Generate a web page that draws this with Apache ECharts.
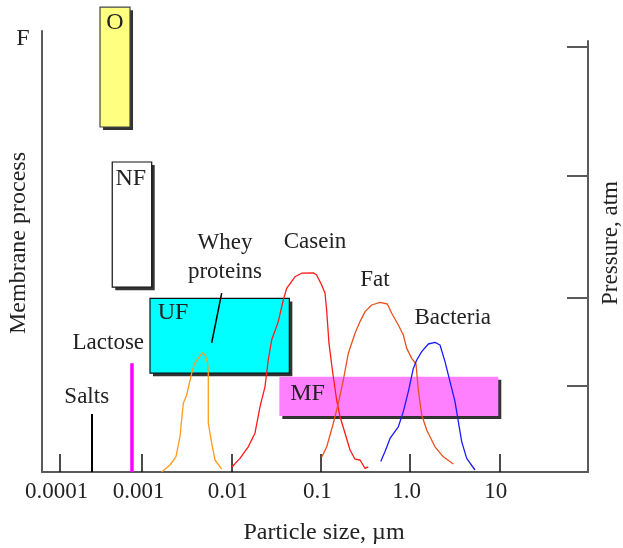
<!DOCTYPE html>
<html>
<head>
<meta charset="utf-8">
<script src="https://cdn.jsdelivr.net/npm/echarts@6/dist/echarts.min.js"></script>
<style>html,body{margin:0;padding:0;background:#fff}#c{width:623px;height:548px}</style>
</head>
<body>
<div id="c"></div>
<script>
// x values are log10(particle size, µm); y values are relative height on the membrane-process axis
const tickPos = [-3.92, -3, -2, -1, 0, 1];
const tickLabels = ['0.0001', '0.001', '0.01', '0.1', '1.0', '10'];
const pressureTicks = [106.3, 74, 43.6, 21.6];

const membranes = ['O', 'NF', 'UF', 'MF'];
const memMinLog = [-3.473, -3.336, -2.913, -1.464];
const memMaxLog = [-3.137, -2.894, -1.352, 0.989];
const memLow = [86.25, 46.2, 24.7, 14];
const memHigh = [116.2, 77.5, 43.4, 23.8];
const memLabelX = [-3.305, -3.128, -2.655, -1.148];
const memLabelY = [112.3, 73.3, 39.8, 19.5];

const wheyX = [-2.782,-2.689,-2.622,-2.577,-2.540,-2.502,-2.446,-2.417,-2.361,-2.327,-2.297,-2.267,-2.260,-2.260,-2.222,-2.185,-2.110];
const wheyY = [0,1.75,3.83,8.83,17.2,19.25,24.7,27,28.8,29.8,29.25,27.2,24.7,12.2,7.2,3,0.7];

const caseinX = [-1.998,-1.905,-1.812,-1.737,-1.681,-1.625,-1.588,-1.550,-1.476,-1.420,-1.382,-1.289,-1.214,-1.083,-1.046,-0.990,-0.952,-0.934,-0.908,-0.870,-0.822,-0.784,-0.728,-0.672,-0.616,-0.560,-0.504,-0.467];
const caseinY = [1.2,3.4,6.3,9.7,16.3,21.3,28,33,37.6,43,45.9,48.8,49.7,49.8,49.25,46.75,44.7,40.5,32.2,25.5,18,13.8,9.7,5.5,3.2,3,0.9,1.3];

const fatX = [-0.990,-0.933,-0.859,-0.803,-0.747,-0.691,-0.616,-0.560,-0.504,-0.429,-0.336,-0.254,-0.205,-0.131,-0.075,-0.037,0.019,0.067,0.093,0.131,0.187,0.280,0.373,0.485];
const fatY = [3.7,6.3,12.2,17.2,23,29.7,34.7,37.6,40.1,41.75,42.4,42,39.7,36.75,34.25,30.9,28.4,27,20.5,14.25,10.5,6.3,3.8,2];

const bactX = [-0.328,-0.280,-0.224,-0.131,-0.075,-0.019,0.037,0.075,0.131,0.205,0.280,0.336,0.392,0.448,0.504,0.541,0.579,0.635,0.728];
const bactY = [2.6,5.1,8.4,11.3,15.1,20.1,25.9,28,30.1,32,32.4,31.75,27.6,22.6,17.6,12.6,7.6,3.4,0.5];

const saltsX = -3.563, saltsTop = 14.5;
const lactoseX = -3.115, lactoseTop = 27.2;
const pointerX = [-2.110, -2.222];
const pointerY = [44.7, 32.3];

const textLabels = ['Salts', 'Lactose', 'Whey', 'proteins', 'Casein', 'Fat', 'Bacteria'];
const textX = [-3.622, -3.380, -2.073, -2.073, -1.064, -0.392, 0.478];
const textY = [18.8, 32.2, 57.2, 50.0, 57.5, 48, 38.4];

const FONT = '"Liberation Serif","Times New Roman",serif';
const memFill = ['#ffff80', '#ffffff', '#00ffff', '#ff80ff'];
const memStroke = ['#444', '#111', '#111', null];

function zip(a, b) { return a.map((v, i) => [v, b[i]]); }

const chart = echarts.init(document.getElementById('c'), null, {renderer: 'canvas'});
const axisColor = '#5a5a5a';

const option = {
  animation: false,
  grid: [
    {left: 42, right: 35, top: 31, bottom: 76},
    {left: 42, right: 35, top: 41, bottom: 76}
  ],
  xAxis: [
    {
      gridIndex: 0, type: 'value', min: -4.123, max: 1.994,
      axisLine: {show: true, onZero: false, lineStyle: {color: axisColor, width: 2}},
      axisTick: {show: true, inside: true, length: 18, customValues: tickPos, lineStyle: {color: '#111', width: 1.5}},
      axisLabel: {show: true, customValues: tickPos, margin: 8, padding: [0, 7, 0, 0],
        formatter: v => tickLabels[tickPos.indexOf(v)] || '',
        fontFamily: FONT, fontSize: 23, color: '#222'},
      splitLine: {show: false}
    },
    {gridIndex: 1, type: 'value', min: -4.123, max: 1.994, show: false}
  ],
  yAxis: [
    {
      gridIndex: 0, type: 'value', min: 0, max: 110.25, position: 'left',
      axisLine: {show: true, onZero: false, lineStyle: {color: axisColor, width: 2}},
      axisTick: {show: false}, axisLabel: {show: false}, splitLine: {show: false}
    },
    {
      gridIndex: 1, type: 'value', min: 0, max: 107.75, position: 'right',
      axisLine: {show: true, onZero: false, lineStyle: {color: axisColor, width: 2}},
      axisTick: {show: true, inside: true, length: 21, customValues: pressureTicks, lineStyle: {color: axisColor, width: 2}},
      axisLabel: {show: false}, splitLine: {show: false}
    }
  ],
  graphic: [
    {type: 'text', x: 23, y: 39, style: {text: 'F', font: '24px ' + FONT, fill: '#222', align: 'center', verticalAlign: 'middle'}},
    {type: 'text', x: 19, y: 243, rotation: Math.PI / 2, style: {text: 'Membrane process', font: '24px ' + FONT, fill: '#222', align: 'center', verticalAlign: 'middle'}},
    {type: 'text', x: 611, y: 243, rotation: Math.PI / 2, style: {text: 'Pressure, atm', font: '23px ' + FONT, fill: '#222', align: 'center', verticalAlign: 'middle'}},
    {type: 'text', x: 324, y: 533, style: {text: 'Particle size, µm', font: '24px ' + FONT, fill: '#222', align: 'center', verticalAlign: 'middle'}}
  ],
  series: [
    {
      type: 'custom', name: 'membranes', clip: false, z: 1,
      data: membranes.map((m, i) => [memMinLog[i], memMaxLog[i], memLow[i], memHigh[i], i]),
      renderItem: function (params, api) {
        const i = api.value(4);
        const p0 = api.coord([api.value(0), api.value(3)]);
        const p1 = api.coord([api.value(1), api.value(2)]);
        const w = p1[0] - p0[0], h = p1[1] - p0[1];
        return {
          type: 'group',
          children: [
            {type: 'rect', shape: {x: p0[0] + 3, y: p0[1] + 3, width: w, height: h}, style: {fill: '#333'}},
            {type: 'rect', shape: {x: p0[0], y: p0[1], width: w, height: h},
              style: {fill: memFill[i], stroke: memStroke[i], lineWidth: memStroke[i] ? 1.2 : 0}}
          ]
        };
      }
    },
    {type: 'line', name: 'Salts', data: [[saltsX, 0], [saltsX, saltsTop]], showSymbol: false, z: 3,
      lineStyle: {color: '#000', width: 2}},
    {type: 'line', name: 'Lactose', data: [[lactoseX, 0], [lactoseX, lactoseTop]], showSymbol: false, z: 3,
      lineStyle: {color: '#ff00ff', width: 3.5}},
    {type: 'line', name: 'pointer', data: zip(pointerX, pointerY), showSymbol: false, z: 3,
      lineStyle: {color: '#000', width: 1.5}},
    {type: 'line', name: 'Whey proteins', data: zip(wheyX, wheyY), showSymbol: false, z: 3,
      lineStyle: {color: '#ff9a1a', width: 1.3}},
    {type: 'line', name: 'Casein', data: zip(caseinX, caseinY), showSymbol: false, z: 3,
      lineStyle: {color: '#ff1a1a', width: 1.3}},
    {type: 'line', name: 'Fat', data: zip(fatX, fatY), showSymbol: false, z: 3,
      lineStyle: {color: '#e8501e', width: 1.3}},
    {type: 'line', name: 'Bacteria', data: zip(bactX, bactY), showSymbol: false, z: 3,
      lineStyle: {color: '#1a1aff', width: 1.3}},
    {
      type: 'custom', name: 'memLabels', clip: false, z: 4,
      data: membranes.map((m, i) => [memLabelX[i], memLabelY[i], i]),
      renderItem: function (params, api) {
        const p = api.coord([api.value(0), api.value(1)]);
        return {type: 'text', x: p[0], y: p[1],
          style: {text: membranes[api.value(2)], font: '24px ' + FONT, fill: '#222', align: 'center', verticalAlign: 'middle'}};
      }
    },
    {
      type: 'custom', name: 'textLabels', clip: false, z: 4,
      data: textLabels.map((t, i) => [textX[i], textY[i], i]),
      renderItem: function (params, api) {
        const p = api.coord([api.value(0), api.value(1)]);
        return {type: 'text', x: p[0], y: p[1],
          style: {text: textLabels[api.value(2)], font: '23px ' + FONT, fill: '#222', align: 'center', verticalAlign: 'middle'}};
      }
    }
  ]
};
chart.setOption(option);
</script>
</body>
</html>
